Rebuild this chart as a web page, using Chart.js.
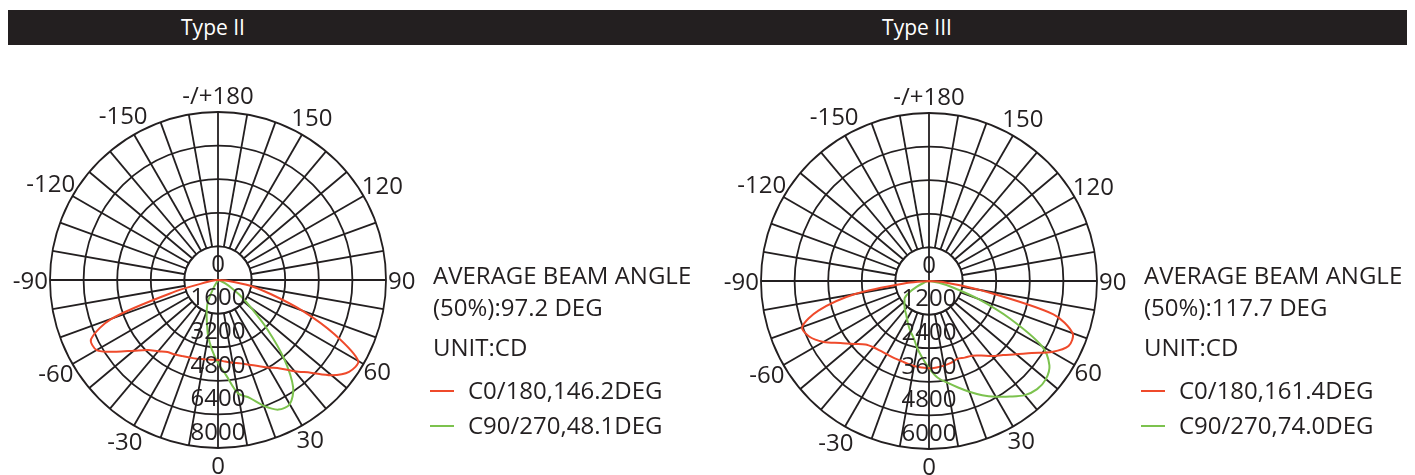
<!DOCTYPE html>
<html lang="en">
<head>
  <meta charset="UTF-8">
  <title>Type II / Type III light distribution</title>
  <script src="https://cdn.jsdelivr.net/npm/chart.js"></script>
  <style>
    body { margin: 0; background: #fff; font-family: "Open Sans", sans-serif; color: #231f20; }
    .page { position: relative; width: 1415px; height: 475px; overflow: hidden; }
    .header { position: absolute; left: 8px; top: 10px; width: 1399px; height: 35px; background: #231f20; }
    .header span { position: absolute; top: 0; line-height: 35px; font-size: 21px; color: #fff; transform: translateX(-50%); }
    canvas { position: absolute; }
    .info { position: absolute; top: 0; font-size: 24px; line-height: 24px; white-space: nowrap; }
    .info div { position: absolute; left: 0; }
    .key { position: absolute; left: -3px; top: 12px; width: 24px; height: 2px; }
    .key + span { position: absolute; left: 35px; }
  </style>
</head>
<body>
<div class="page">
  <div class="header">
    <span style="left:205px">Type II</span>
    <span style="left:909px">Type III</span>
  </div>

  <canvas id="typeIIChart" width="440" height="400" style="left:-2px; top:80px"></canvas>
  <canvas id="typeIIIChart" width="440" height="400" style="left:709px; top:81px"></canvas>

  <!-- side notes, left panel -->
  <div class="info" style="left:433px">
    <div style="top:263px">AVERAGE BEAM ANGLE</div>
    <div style="top:295px">(50%):97.2 DEG</div>
    <div style="top:335px">UNIT:CD</div>
    <div style="top:378px"><i class="key" style="background:#ef4a2b"></i><span>C0/180,146.2DEG</span></div>
    <div style="top:413px"><i class="key" style="background:#7cc24e"></i><span>C90/270,48.1DEG</span></div>
  </div>

  <!-- side notes, right panel -->
  <div class="info" style="left:1144px">
    <div style="top:263px">AVERAGE BEAM ANGLE</div>
    <div style="top:295px">(50%):117.7 DEG</div>
    <div style="top:335px">UNIT:CD</div>
    <div style="top:378px"><i class="key" style="background:#ef4a2b"></i><span>C0/180,161.4DEG</span></div>
    <div style="top:413px"><i class="key" style="background:#7cc24e"></i><span>C90/270,74.0DEG</span></div>
  </div>
</div>

<script>
  // angles around the dial, clockwise from the top
  const circleAngles = [180, 175, 170, 165, 160, 155, 150, 145, 140, 135, 130, 125, 120, 115, 110, 105, 100, 95,
    90, 85, 80, 75, 70, 65, 60, 55, 50, 45, 40, 35, 30, 25, 20, 15, 10, 5,
    0, -5, -10, -15, -20, -25, -30, -35, -40, -45, -50, -55, -60, -65, -70, -75, -80, -85,
    -90, -95, -100, -105, -110, -115, -120, -125, -130, -135, -140, -145, -150, -155, -160, -165, -170, -175];

  // gamma angles where light was read (lower half of the dial)
  const gammaAngles = [-90, -85, -80, -75, -70, -65, -60, -55, -50, -45, -40, -35, -30, -25, -20, -15, -10, -5,
    0, 5, 10, 15, 20, 25, 30, 35, 40, 45, 50, 55, 60, 65, 70, 75, 80, 85, 90];

  const angleLabels = [180, 150, 120, 90, 60, 30, 0, -30, -60, -90, -120, -150];

  // Type II, cd
  const typeIITicks = [0, 1600, 3200, 4800, 6400, 8000];
  const typeIIC0 = [0, 140, 480, 2100, 5400, 6670, 6670, 5950, 5240, 4710, 4430, 4190, 4100, 4000, 3930, 3880, 3830, 3810,
    3810, 3900, 4000, 4110, 4290, 4520, 4810, 5140, 5670, 6240, 7050, 7620, 7710, 6120, 4270, 2620, 1520, 500, 0];
  const typeIIC90 = [0, 0, 0, 0, 0, 0, 0, 0, 0, 0, 0, 0, 380, 1140, 1570, 2050, 2710, 3330,
    3950, 4570, 5480, 5810, 6380, 6810, 6830, 6240, 4900, 3330, 2050, 1290, 710, 380, 140, 0, 0, 0, 0];

  // Type III, cd
  const typeIIITicks = [0, 1200, 2400, 3600, 4800, 6000];
  const typeIIIC0 = [0, 750, 2680, 4090, 4820, 4710, 4350, 3860, 3500, 3210, 3090, 3040, 3020, 3020, 3020, 3050, 3080, 3100,
    3120, 3100, 3070, 3030, 2960, 3020, 3080, 3250, 3500, 3740, 4070, 4480, 5070, 5500, 5460, 4600, 1870, 570, 0];
  const typeIIIC90 = [0, 0, 0, 60, 210, 490, 820, 1060, 1140, 1240, 1340, 1430, 1570, 1740, 1920, 2110, 2430, 2750,
    3110, 3460, 3680, 3930, 4210, 4500, 4770, 5040, 5320, 5460, 5450, 5250, 4660, 3210, 1850, 860, 360, 0, 0];

  const gridColor = '#231f20';
  const gridWidth = 1.8;
  const labelFont = '24px "Open Sans"';
  const capHeight = 17;

  // place a gamma series on the full dial (nothing above the horizon)
  function toDial(values) {
    return circleAngles.map(a => {
      const i = gammaAngles.indexOf(a);
      return i >= 0 ? values[i] : 0;
    });
  }

  const polarDecor = {
    id: 'polarDecor',
    beforeDatasetsDraw(chart) {
      const s = chart.scales.r;
      const ctx = chart.ctx;
      const r1 = s.getDistanceFromCenterForValue(s.options.ticks.stepSize);
      // clear the hub, keep the cross through it
      ctx.save();
      ctx.fillStyle = '#fff';
      ctx.beginPath();
      ctx.arc(s.xCenter, s.yCenter, r1, 0, Math.PI * 2);
      ctx.fill();
      ctx.strokeStyle = gridColor;
      ctx.lineWidth = gridWidth;
      ctx.stroke();
      ctx.beginPath();
      ctx.moveTo(s.xCenter - r1, s.yCenter);
      ctx.lineTo(s.xCenter + r1, s.yCenter);
      ctx.moveTo(s.xCenter, s.yCenter - r1);
      ctx.lineTo(s.xCenter, s.yCenter + r1);
      ctx.stroke();
      ctx.restore();
    },
    afterDatasetsDraw(chart) {
      const s = chart.scales.r;
      const ctx = chart.ctx;
      const ticks = chart.options.plugins.polarDecor.ticks;
      const gap = s.getDistanceFromCenterForValue(ticks[1]);
      const R = s.drawingArea;
      ctx.save();
      ctx.font = labelFont;
      ctx.fillStyle = gridColor;
      ctx.textAlign = 'center';
      ctx.textBaseline = 'alphabetic';
      // intensity values down the 0 line, sitting just inside each ring
      ticks.forEach(v => {
        const y = s.yCenter + s.getDistanceFromCenterForValue(v) - gap / 2;
        ctx.fillText(String(v), s.xCenter, y + capHeight / 2);
      });
      // angle labels round the rim
      angleLabels.forEach(a => {
        const idx = circleAngles.indexOf(a);
        const p = s.getPointPosition(idx, 1);
        const ux = p.x - s.xCenter, uy = p.y - s.yCenter;
        const text = a === 180 ? '-/+180' : String(a);
        const w = ctx.measureText(text).width;
        const d = R + 17 + Math.abs(ux) * (w / 2 - 15);
        ctx.fillText(text, s.xCenter + ux * d, s.yCenter + uy * d + capHeight / 2);
      });
      ctx.restore();
    }
  };

  function createPolarChart(id, ticks, c0, c90) {
    const ctx = document.getElementById(id).getContext('2d');
    return new Chart(ctx, {
      type: 'radar',
      data: {
        labels: circleAngles,
        datasets: [{
          label: 'C0/180',
          data: toDial(c0),
          borderColor: '#ef4a2b',
          borderWidth: 2,
          fill: false,
          pointRadius: 0,
          tension: 0.3
        }, {
          label: 'C90/270',
          data: toDial(c90),
          borderColor: '#7cc24e',
          borderWidth: 2,
          fill: false,
          pointRadius: 0,
          tension: 0.3
        }]
      },
      options: {
        responsive: false,
        animation: false,
        layout: { padding: { left: 52, right: 52, top: 32, bottom: 32 } },
        plugins: {
          legend: { display: false },
          tooltip: { enabled: false },
          polarDecor: { ticks: ticks }
        },
        scales: {
          r: {
            min: ticks[0],
            max: ticks[ticks.length - 1],
            ticks: { display: false, stepSize: ticks[1] - ticks[0] },
            grid: { circular: true, color: gridColor, lineWidth: gridWidth },
            angleLines: {
              color: gridColor,
              lineWidth: c => (c.index % 2 === 0 ? gridWidth : 0)
            },
            pointLabels: { display: false }
          }
        }
      },
      plugins: [polarDecor]
    });
  }

  createPolarChart('typeIIChart', typeIITicks, typeIIC0, typeIIC90);
  createPolarChart('typeIIIChart', typeIIITicks, typeIIIC0, typeIIIC90);
</script>
</body>
</html>
